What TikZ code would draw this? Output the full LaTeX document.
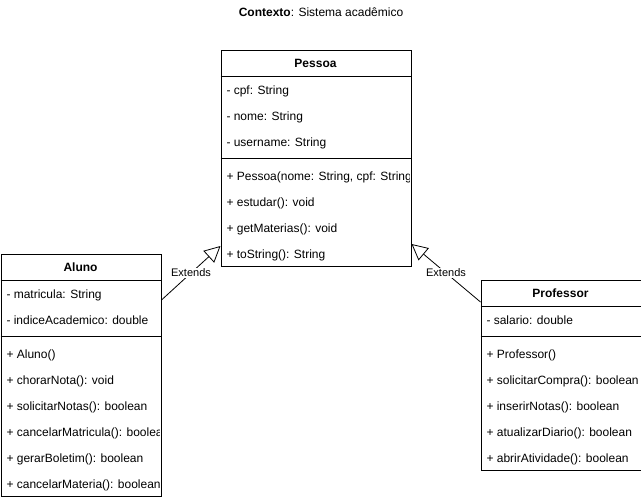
\documentclass[tikz,border=0pt]{standalone}
\usepackage{fontspec}
\setmainfont{Liberation Sans}
\usetikzlibrary{arrows.meta}

\tikzset{
  classbox/.style={draw, line width=1pt, inner sep=0pt, anchor=north west},
  classname/.style={font=\fontsize{12}{14}\selectfont\bfseries, inner sep=0pt},
  member/.style={anchor=base west, inner sep=0pt},
  extends/.style={-{Triangle[open,length=16pt,width=16pt]}, line width=0.8pt},
  extlabel/.style={midway, fill=white, inner sep=0.5pt}
}

\begin{document}
\begin{tikzpicture}[x=1pt, y=-1pt, line width=1pt, font=\fontsize{12}{14}\selectfont]
  \useasboundingbox (0,0) rectangle (641,499);

  \node (title) at (321,12) {\textbf{Contexto}: Sistema acadêmico};

  % Pessoa
  \node[classbox, minimum width=190pt, minimum height=216pt] (pessoa) at (220.5,50) {};
  \node[classname] (pessoa-name) at (315.5,63) {Pessoa};
  \draw (220.5,76) -- (410.5,76);
  \draw (220.5,158) -- (410.5,158);
  \begin{scope}
    \clip (pessoa.north west) rectangle ([xshift=-2pt]pessoa.south east);
    \node[member] (cpf) at (226,94) {- cpf: String};
    \node[member] (nome) at (226,120) {- nome: String};
    \node[member] (username) at (226,146) {- username: String};
    \node[member] (pessoa-new) at (226,180) {+ Pessoa(nome: String, cpf: String)};
    \node[member] (estudar) at (226,206) {+ estudar(): void};
    \node[member] (getmaterias) at (226,232) {+ getMaterias(): void};
    \node[member] (tostring) at (226,258) {+ toString(): String};
  \end{scope}

  % Aluno
  \node[classbox, minimum width=160pt, minimum height=242pt] (aluno) at (0.5,254) {};
  \node[classname] (aluno-name) at (80.5,267) {Aluno};
  \draw (0.5,280) -- (160.5,280);
  \draw (0.5,336) -- (160.5,336);
  \begin{scope}
    \clip (aluno.north west) rectangle ([xshift=-2pt]aluno.south east);
    \node[member] (matricula) at (6,298) {- matricula: String};
    \node[member] (indice) at (6,324) {- indiceAcademico: double};
    \node[member] (aluno-new) at (6,358) {+ Aluno()};
    \node[member] (chorarnota) at (6,384) {+ chorarNota(): void};
    \node[member] (solicitarnotas) at (6,410) {+ solicitarNotas(): boolean};
    \node[member] (cancelarmatricula) at (6,436) {+ cancelarMatricula(): boolean};
    \node[member] (gerarboletim) at (6,462) {+ gerarBoletim(): boolean};
    \node[member] (cancelarmateria) at (6,488) {+ cancelarMateria(): boolean};
  \end{scope}

  % Professor
  \node[classbox, minimum width=160pt, minimum height=190pt] (professor) at (480.5,280) {};
  \node[classname] (professor-name) at (560.5,293) {Professor};
  \draw (480.5,306) -- (640.5,306);
  \draw (480.5,336) -- (640.5,336);
  \begin{scope}
    \clip (professor.north west) rectangle ([xshift=-2pt]professor.south east);
    \node[member] (salario) at (486,324) {- salario: double};
    \node[member] (professor-new) at (486,358) {+ Professor()};
    \node[member] (solicitarcompra) at (486,384) {+ solicitarCompra(): boolean};
    \node[member] (inserirnotas) at (486,410) {+ inserirNotas(): boolean};
    \node[member] (atualizardiario) at (486,436) {+ atualizarDiario(): boolean};
    \node[member] (abriratividade) at (486,462) {+ abrirAtividade(): boolean};
  \end{scope}

  % heranca
  \draw[extends] ([yshift=-46pt]aluno.north east) -- ([yshift=21pt]pessoa.south west)
    node[extlabel, font=\fontsize{11}{13}\selectfont] (ext-aluno) {Extends};
  \draw[extends] ([yshift=-22pt]professor.north west) -- ([yshift=23pt]pessoa.south east)
    node[extlabel, font=\fontsize{11}{13}\selectfont] (ext-professor) {Extends};
\end{tikzpicture}
\end{document}
